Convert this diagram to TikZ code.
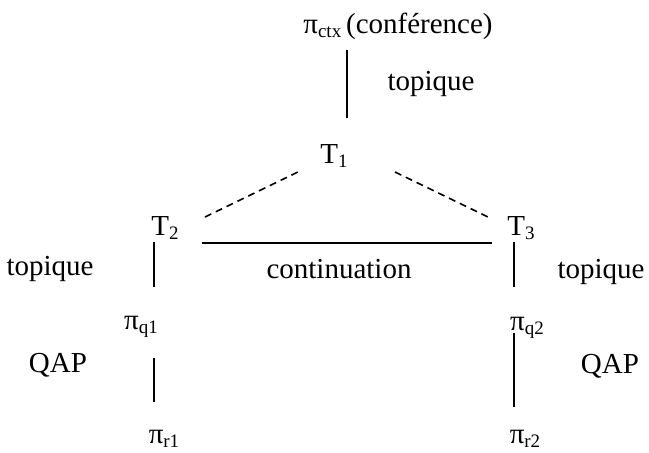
\documentclass[tikz,border=0pt]{standalone}
\usepackage{fontspec}
\setmainfont{Liberation Serif}
\newcommand\lowsub[1]{\raisebox{-0.17em}{\fontsize{19}{19}\selectfont #1}}
\tikzset{
  lbl/.style={inner sep=0pt, anchor=base, font=\fontsize{29}{29}\selectfont},
  solidline/.style={line width=1.6pt},
  dashline/.style={line width=1.6pt, dash pattern=on 7pt off 5pt}
}
\begin{document}
\begin{tikzpicture}[x=1pt,y=-1pt]
\useasboundingbox (0,0) rectangle (649,453);
% nodes
\node[lbl] (ctx) at (398,33) {π\lowsub{ctx}\,(conférence)};
\node[lbl] (topT) at (431,90) {topique};
\node[lbl] (T1) at (334,163) {T\lowsub{1}};
\node[lbl] (T2) at (165,235) {T\lowsub{2}};
\node[lbl] (T3) at (521,235) {T\lowsub{3}};
\node[lbl] (topL) at (50,275) {topique};
\node[lbl] (cont) at (339,278) {continuation};
\node[lbl] (topR) at (601,278) {topique};
\node[lbl] (q1) at (141,329) {π\lowsub{q1}};
\node[lbl] (q2) at (527,330) {π\lowsub{q2}};
\node[lbl] (qapL) at (58,372) {QAP};
\node[lbl] (qapR) at (610,373) {QAP};
\node[lbl] (r1) at (164,443) {π\lowsub{r1}};
\node[lbl] (r2) at (525,443) {π\lowsub{r2}};
% connector end points
\coordinate (a1) at (347,50);  \coordinate (a2) at (347,118);
\coordinate (b1) at (205,217); \coordinate (b2) at (300,171);
\coordinate (c1) at (395,172); \coordinate (c2) at (488,217);
\coordinate (d1) at (202,243); \coordinate (d2) at (492,243);
\coordinate (e1) at (154,242); \coordinate (e2) at (154,287);
\coordinate (f1) at (154,358); \coordinate (f2) at (154,402);
\coordinate (g1) at (514,242); \coordinate (g2) at (514,287);
\coordinate (h1) at (514,333); \coordinate (h2) at (514,407);
% connectors
\draw[solidline] (a1) -- (a2);
\draw[dashline] (b1) -- (b2);
\draw[dashline] (c1) -- (c2);
\draw[solidline] (d1) -- (d2);
\draw[solidline] (e1) -- (e2);
\draw[solidline] (f1) -- (f2);
\draw[solidline] (g1) -- (g2);
\draw[solidline] (h1) -- (h2);
\end{tikzpicture}
\end{document}
